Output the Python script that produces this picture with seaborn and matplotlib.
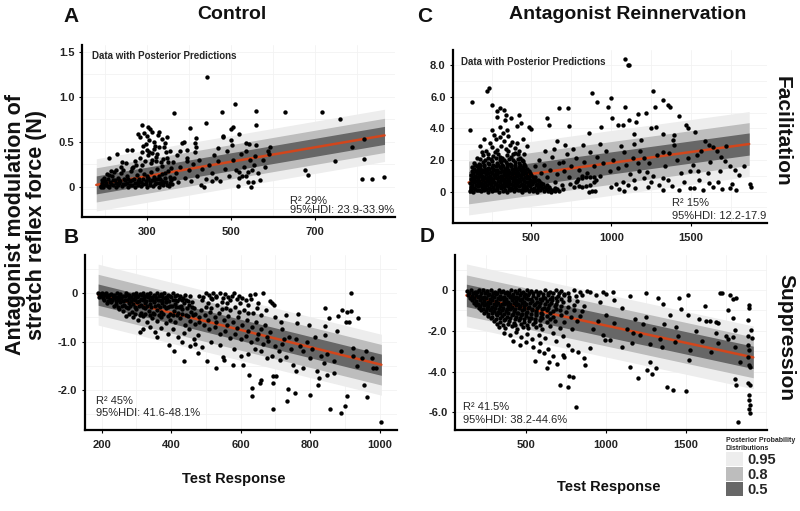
import numpy as np
import pandas as pd
import matplotlib
matplotlib.use("Agg")
import matplotlib.pyplot as plt
from matplotlib.patches import Patch
from matplotlib.ticker import AutoMinorLocator
import seaborn as sns

sns.set_theme(style="white")
plt.rcParams["font.family"] = ["Liberation Sans", "DejaVu Sans"]

# ---- data (Test Response, modulation) ----
a_pts = [
    (190,0.01),(193,0.04),(197,0.0),(200,0.06),(203,0.02),(207,0.09),(210,0.0),(213,0.05),(217,0.12),(220,0.02),
    (224,0.07),(227,0.0),(231,0.10),(234,0.04),(238,0.15),(241,0.01),(245,0.08),(248,0.03),(252,0.12),(255,0.0),
    (259,0.06),(262,0.17),(266,0.02),(269,0.09),(273,0.0),(276,0.13),(280,0.04),(283,0.19),(287,0.01),(290,0.08),
    (294,0.14),(297,0.03),(301,0.0),(304,0.10),(308,0.05),(311,0.16),(315,0.01),(318,0.11),(322,0.04),(325,0.20),
    (329,0.0),(332,0.08),(336,0.14),(339,0.02),(343,0.10),(346,0.05),(350,0.17),(353,0.01),(357,0.07),(360,0.03),
    (199,0.10),(211,0.13),(222,0.16),(233,0.07),(244,0.19),(256,0.09),(267,0.22),(278,0.06),(289,0.24),(300,0.12),
    (309,0.26),(316,0.07),(323,0.29),(330,0.12),(337,0.23),(344,0.15),(351,0.27),(356,0.11),(347,0.32),(321,0.33),
    (312,0.30),(303,0.35),(295,0.28),(285,0.32),(275,0.24),(264,0.21),(250,0.26),(238,0.22),(227,0.19),(215,0.17),
    (205,0.14),(194,0.07),
    (289,0.69),(304,0.66),(308,0.64),(312,0.61),(280,0.58),(283,0.55),(294,0.60),(330,0.61),(316,0.50),(336,0.53),
    (343,0.48),(349,0.55),(328,0.44),(300,0.41),(305,0.38),(312,0.37),(252,0.41),(264,0.41),(230,0.36),(211,0.32),
    (241,0.27),(272,0.29),(288,0.38),(339,0.31),(355,0.40),(320,0.45),(298,0.47),(325,0.36),(345,0.39),(333,0.27),
    (318,0.42),(306,0.52),(292,0.45),(358,0.21),(340,0.44),(326,0.57),(301,0.56),
    (364,0.82),(383,0.49),(403,0.65),(415,0.49),(415,0.39),(441,0.71),(444,1.22),(478,0.83),(482,0.55),(504,0.66),
    (510,0.92),(500,0.64),(560,0.84),(628,0.83),(716,0.83),(760,0.75),(560,0.69),(388,0.50),(396,0.41),(418,0.54),
    (418,0.44),(480,0.56),(500,0.52),(502,0.46),(536,0.49),(544,0.47),(560,0.46),(592,0.44),(588,0.40),(556,0.34),
    (676,0.19),(684,0.13),(748,0.28),(788,0.44),(816,0.53),(816,0.31),(812,0.09),(836,0.09),(864,0.11),(570,0.07),
    (548,0.0),(516,0.01),(454,0.06),(436,0.0),(428,0.02),
    (370,0.15),(375,0.05),(380,0.22),(390,0.10),(395,0.28),(400,0.18),(405,0.06),(410,0.25),(420,0.12),(425,0.30),
    (432,0.20),(440,0.08),(448,0.24),(455,0.15),(460,0.35),(465,0.10),(470,0.28),(475,0.06),(485,0.20),(490,0.40),
    (495,0.12),(505,0.30),(512,0.18),(520,0.10),(525,0.36),(530,0.22),(535,0.12),(540,0.05),(545,0.30),(550,0.18),
    (555,0.24),(565,0.15),(575,0.30),(580,0.22),(590,0.36),(372,0.35),(380,0.40),(395,0.32),(470,0.43),(520,0.58),
    (535,0.40),(520,0.16),(527,0.12),(540,0.16),(552,0.05),(365,0.10),(362,0.27),
]
a_dense = [
    (192,0.0),(196,0.02),(202,0.04),(208,0.01),(215,0.03),(219,0.07),(226,0.04),(232,0.02),(237,0.06),(243,0.03),
    (249,0.07),(254,0.04),(261,0.02),(265,0.07),(271,0.04),(278,0.02),(282,0.08),(286,0.05),(292,0.03),(298,0.06),
    (302,0.08),(307,0.02),(313,0.07),(319,0.03),(324,0.09),(328,0.04),(334,0.03),(337,0.06),(342,0.05),(348,0.02),
    (354,0.04),(358,0.09),
]

b_pts = [
    (190,0.0),(195,-0.01),(200,0.0),(205,-0.02),(212,0.0),(220,-0.03),(228,-0.01),(236,-0.04),(245,0.0),(254,-0.02),
    (262,-0.05),(270,0.0),(280,-0.03),(290,-0.01),(300,0.0),(310,-0.02),(320,0.0),(330,-0.01),(340,0.0),(350,-0.03),
    (360,0.0),(370,-0.02),(380,0.0),(392,-0.04),(405,0.0),(418,-0.03),
    (192,-0.08),(203,-0.1),(214,-0.07),(224,-0.12),(235,-0.09),(246,-0.13),(257,-0.1),(268,-0.14),(279,-0.09),(290,-0.12),
    (301,-0.08),(312,-0.13),(323,-0.1),(334,-0.07),(345,-0.12),(356,-0.09),(367,-0.14),(378,-0.1),(389,-0.12),(400,-0.08),
    (411,-0.15),(422,-0.11),(435,-0.09),(448,-0.16),
    (215,-0.2),(228,-0.18),(240,-0.22),(252,-0.19),(265,-0.24),(278,-0.2),(290,-0.23),(302,-0.18),(314,-0.25),(326,-0.2),
    (338,-0.22),(350,-0.19),(362,-0.25),(374,-0.21),(386,-0.18),(398,-0.26),(410,-0.22),(424,-0.28),(438,-0.2),(452,-0.25),
    (466,-0.3),
    (250,-0.32),(262,-0.36),(275,-0.3),(288,-0.38),(300,-0.33),(312,-0.4),(324,-0.31),(336,-0.37),(348,-0.42),(360,-0.34),
    (372,-0.39),(384,-0.31),(396,-0.44),(408,-0.36),(420,-0.41),(432,-0.33),(444,-0.46),(456,-0.38),(470,-0.43),
    (270,-0.48),(290,-0.5),(305,-0.55),(318,-0.48),(330,-0.6),(345,-0.52),(358,-0.58),(370,-0.5),(385,-0.62),(398,-0.55),
    (412,-0.6),(425,-0.52),(440,-0.66),(455,-0.58),(468,-0.63),(480,-0.5),
    (320,-0.75),(340,-0.7),(355,-0.8),(372,-0.72),(390,-0.85),(405,-0.75),(420,-0.9),(438,-0.82),(452,-0.74),(465,-0.95),
    (476,-0.86),(310,-0.8),(360,-0.9),
    (395,-1.07),(407,-1.19),(437,-1.40),(478,-1.23),(502,-1.40),(528,-1.55),(550,-1.31),(552,-1.39),(577,-1.48),(608,-1.48),
    (430,-1.0),(455,-1.1),(470,-1.05),(490,-1.12),(515,-1.0),(540,-1.08),
    (500,0.0),(510,-0.03),(520,0.0),(530,-0.05),(540,0.0),(555,-0.02),(565,-0.08),(580,0.0),(595,-0.05),(627,-0.03),
    (641,-0.02),(663,0.0),(684,-0.17),(690,-0.2),(695,-0.25),
    (490,-0.15),(505,-0.2),(518,-0.12),(532,-0.25),(545,-0.18),(558,-0.3),(570,-0.15),(585,-0.28),(598,-0.2),(610,-0.35),
    (622,-0.25),(635,-0.4),(648,-0.3),(660,-0.45),(672,-0.35),
    (485,-0.35),(498,-0.45),(512,-0.38),(525,-0.5),(538,-0.42),(552,-0.55),(565,-0.48),(578,-0.6),(592,-0.5),(605,-0.65),
    (618,-0.55),(632,-0.7),(645,-0.6),(658,-0.75),(670,-0.65),(685,-0.8),
    (495,-0.65),(510,-0.75),(525,-0.7),(540,-0.85),(555,-0.78),(570,-0.92),(585,-0.85),(600,-0.95),(615,-0.88),(630,-1.0),
    (648,-0.95),(665,-1.05),(680,-0.98),(700,-1.1),(720,-1.05),
    (919,0.0),(937,-0.52),(917,-0.37),(905,-0.38),(902,-0.59),(912,-0.59),(891,-0.34),(881,-0.47),(855,-0.52),(843,-0.31),
    (843,-0.68),(878,-0.79),(922,-1.14),(922,-1.30),(977,-1.34),(982,-1.55),(991,-1.55),(1004,-2.66),(888,-2.47),(901,-2.34),
    (905,-2.12),(857,-2.40),(822,-1.90),(848,-1.69),(826,-1.76),(800,-2.10),(756,-2.07),(734,-2.24),(737,-1.99),(694,-2.40),
    (694,-1.86),(692,-1.71),(702,-1.71),(658,-1.79),(657,-1.86),(634,-1.97),(634,-2.12),(625,-1.69),(766,-0.43),(761,-0.62),
    (797,-0.66),(813,-0.90),(843,-0.86),(771,-1.10),(732,-1.31),(751,-1.48),(713,-1.38),(675,-1.34),
    (720,-0.75),(740,-0.9),(760,-0.95),(780,-1.2),(790,-1.0),(805,-1.15),(830,-1.3),(850,-1.25),(870,-1.4),(890,-1.2),
    (950,-1.35),(960,-1.2),(700,-0.5),(715,-0.6),(730,-0.45),(745,-1.15),(710,-1.2),(725,-0.95),(690,-1.3),(660,-1.2),
    (640,-1.15),(620,-1.25),(600,-1.3),(580,-1.15),(780,-1.55),(800,-1.35),(820,-1.6),(760,-1.6),(870,-1.65),(840,-1.45),
    (935,-1.5),(955,-1.9),(965,-2.15),
]
b_dense = [
    (198,-0.05),(209,-0.04),(218,-0.06),(232,-0.05),(241,-0.07),(250,-0.05),(266,-0.06),(276,-0.04),(285,-0.07),(295,-0.05),
    (305,-0.06),(315,-0.04),(325,-0.06),(335,-0.05),(345,-0.07),(355,-0.05),(365,-0.06),(375,-0.05),(386,-0.07),(398,-0.05),
    (411,-0.06),(425,-0.05),(440,-0.03),(455,-0.06),
    (208,-0.15),(219,-0.16),(230,-0.14),(241,-0.17),(251,-0.15),(262,-0.16),(273,-0.14),(284,-0.17),(296,-0.15),(307,-0.16),
    (318,-0.14),(329,-0.17),(340,-0.15),(351,-0.16),(362,-0.14),(373,-0.17),(384,-0.15),(395,-0.16),(406,-0.14),(417,-0.17),
    (430,-0.15),(443,-0.14),(460,-0.18),
    (235,-0.27),(246,-0.29),(258,-0.26),(270,-0.28),(283,-0.27),(295,-0.29),(307,-0.26),(319,-0.28),(331,-0.27),(343,-0.29),
    (355,-0.26),(367,-0.28),(379,-0.27),(391,-0.29),(403,-0.26),(415,-0.28),(428,-0.27),(445,-0.3),(460,-0.28),
    (280,-0.44),(296,-0.43),(310,-0.45),(324,-0.44),(338,-0.46),(352,-0.44),(365,-0.45),(378,-0.44),(392,-0.47),(405,-0.45),
    (418,-0.46),(432,-0.44),(448,-0.47),(462,-0.45),
    (480,-0.05),(492,-0.08),(515,-0.1),(528,-0.08),(548,-0.1),(560,-0.2),(575,-0.06),(590,-0.12),(605,-0.1),(615,-0.15),
    (630,-0.12),(650,-0.2),(500,-0.28),(515,-0.3),(545,-0.33),(570,-0.35),(595,-0.38),(620,-0.4),(480,-0.6),(505,-0.55),
    (530,-0.6),(560,-0.65),(590,-0.72),(620,-0.78),(650,-0.85),(675,-0.9),
]

c_pts = [
    (112,0.05),(135,0.0),(158,0.08),(182,0.02),(205,0.1),(228,0.0),(252,0.06),(275,0.12),(298,0.01),(322,0.07),
    (345,0.0),(368,0.1),(392,0.03),(415,0.08),(438,0.0),(462,0.11),(485,0.02),(508,0.06),(532,0.0),(555,0.09),
    (578,0.02),(602,0.05),(625,0.0),(650,0.07),(675,0.03),(862,0.0),(882,0.06),(898,0.06),
    (118,0.3),(141,0.26),(164,0.34),(188,0.28),(211,0.36),(234,0.25),(258,0.32),(281,0.27),(304,0.35),(328,0.29),
    (351,0.33),(374,0.24),(398,0.31),(421,0.37),(444,0.26),(468,0.3),(491,0.34),(514,0.22),(538,0.3),(561,0.38),
    (585,0.27),(610,0.32),
    (115,0.55),(138,0.6),(162,0.5),(185,0.57),(208,0.62),(232,0.52),(255,0.58),(278,0.5),(302,0.63),(325,0.55),
    (348,0.6),(372,0.51),(395,0.56),(418,0.62),(442,0.5),(465,0.58),(488,0.53),(512,0.6),(535,0.48),(560,0.57),
    (120,0.8),(143,0.76),(167,0.85),(190,0.78),(213,0.84),(237,0.75),(260,0.82),(283,0.88),(307,0.77),(330,0.83),
    (353,0.79),(377,0.86),(400,0.76),(423,0.82),(447,0.78),(470,0.85),(494,0.74),(518,0.8),(540,0.72),
    (122,1.05),(146,1.0),(170,1.08),(193,1.02),(216,1.1),(240,0.98),(263,1.06),(286,1.12),(310,1.0),(333,1.07),
    (356,1.03),(380,1.1),(403,0.99),(426,1.05),(450,1.12),(475,0.98),(500,1.04),(522,0.95),
    (125,1.28),(150,1.33),(174,1.25),(197,1.36),(220,1.3),(244,1.27),(267,1.35),(290,1.24),(314,1.32),(337,1.38),
    (360,1.26),(384,1.33),(407,1.29),(432,1.36),(458,1.25),(482,1.31),
    (130,1.55),(156,1.6),(180,1.52),(204,1.62),(228,1.5),(252,1.58),(276,1.65),(300,1.53),(324,1.6),(348,1.55),
    (372,1.63),(396,1.5),(420,1.58),(445,1.54),(462,1.62),
    (140,1.82),(170,1.76),(198,1.88),(226,1.8),(254,1.92),(282,1.78),(310,1.85),(338,1.9),(366,1.77),(394,1.86),
    (422,1.8),(445,1.93),
    (160,2.15),(195,2.3),(230,2.1),(262,2.25),(290,2.4),(318,2.12),(345,2.3),(372,2.2),(400,2.45),(430,2.15),
    (215,2.6),(250,2.8),(285,2.65),(310,2.9),(340,2.7),(368,2.95),(395,2.75),(425,2.6),(455,2.4),(240,3.1),
    (275,3.3),(300,3.45),(330,3.2),(355,3.5),(380,3.15),(410,3.05),(265,3.6),(320,3.7),(345,3.9),(200,3.3),
    (180,2.9),(450,3.3),(470,2.9),
    (233,6.57),(222,6.36),(128,5.69),(254,5.48),(306,5.31),(327,5.16),(281,5.10),(281,4.74),(338,4.84),(333,4.53),
    (369,4.67),(421,4.84),(432,4.32),(411,4.15),(484,4.11),(495,3.96),(306,4.11),(253,3.90),(115,3.90),(599,4.67),
    (610,4.21),(673,5.31),(730,5.31),(736,4.17),(882,6.25),(998,5.94),(914,5.64),(983,5.37),(1008,4.67),(1071,4.21),
    (1040,4.21),(935,4.11),(824,2.95),(862,3.69),(929,3.0),(711,2.95),(662,3.2),
    (1088,8.36),(1103,8.0),(1113,8.0),
    (520,1.6),(545,2.0),(560,1.2),(580,1.7),(600,0.9),(615,1.4),(630,2.2),(645,0.6),(660,1.1),(675,1.8),
    (690,0.4),(705,1.3),(720,2.4),(735,0.9),(750,1.6),(765,0.3),(780,2.1),(800,1.4),(815,1.0),(830,1.9),
    (850,1.2),(870,2.5),(890,1.6),(910,2.2),(930,1.0),(950,1.8),(970,2.6),(990,1.3),(1010,2.0),(1030,0.5),
    (585,2.6),(640,2.7),(700,1.9),(760,2.7),(650,0.2),(700,0.15),(740,0.5),
    (780,0.6),(800,0.35),(820,0.3),(845,0.35),(870,0.45),(890,0.6),(905,0.75),(895,0.9),(870,0.95),(845,0.9),
    (820,0.85),(795,0.8),(785,0.7),
    (1260,6.38),(1327,5.79),(1354,5.48),(1369,5.33),(1423,4.80),(1277,5.37),(1218,4.95),(1170,4.89),(1088,5.37),(1470,4.21),
    (1480,4.04),(1528,3.79),
    (1590,3.2),(1615,2.95),(1640,2.8),(1665,2.55),(1690,2.2),(1715,1.95),(1745,1.65),(1775,1.4),(1800,1.05),
    (1868,0.47),(1874,0.32),(1742,0.21),(1696,0.15),(1669,0.63),(1612,0.57),(1553,0.74),(1491,0.25),(1428,0.1),(1455,0.59),
    (1679,1.31),(1606,1.16),(1543,1.31),(1491,1.31),(1480,2.11),(1537,2.32),(1396,3.58),(1386,3.27),(1323,3.62),(1281,4.11),
    (1250,4.0),(1155,4.42),(1113,4.53),(1145,3.62),(1187,3.27),(1145,3.0),(1082,2.53),(1323,2.53),(1396,2.95),(1365,2.42),
    (1208,2.11),(1134,2.11),(1092,1.69),(1165,1.79),(1176,1.31),(1222,1.22),(1260,1.01),(1323,0.85),(1354,0.74),(1302,0.42),
    (1250,0.63),(1208,0.85),(1145,0.74),(1103,0.42),(1323,0.11),(1574,0.11),(1071,0.63),(1082,0.05),
    (1040,1.5),(1060,2.9),(1120,1.1),(1180,2.6),(1240,1.8),(1290,2.3),(1340,1.6),(1410,2.0),(1440,1.2),(1510,1.7),
    (1560,2.6),(1620,1.9),(1720,2.9),(1760,0.5),(1830,1.6),(1000,0.3),(1050,0.15),(1150,0.2),(1230,0.3),(1380,0.35),
    (1520,0.2),(1640,0.3),(1780,0.1),
]
c_dense = [
    (124,0.15),(147,0.18),(170,0.12),(194,0.17),(217,0.14),(240,0.19),(264,0.13),(287,0.16),(310,0.2),(334,0.12),
    (357,0.17),(380,0.15),(404,0.19),(427,0.13),(450,0.17),(474,0.14),(497,0.18),(520,0.12),(544,0.16),(567,0.2),
    (590,0.14),(615,0.17),(638,0.12),(662,0.15),
    (128,0.42),(152,0.45),(175,0.4),(199,0.46),(222,0.43),(246,0.39),(269,0.47),(292,0.41),(316,0.44),(339,0.4),
    (362,0.46),(386,0.42),(409,0.45),(432,0.39),(456,0.44),(479,0.41),(502,0.47),(526,0.4),(549,0.43),(573,0.46),
    (596,0.41),
    (126,0.68),(150,0.7),(173,0.65),(196,0.71),(220,0.66),(243,0.72),(266,0.64),(290,0.69),(313,0.73),(336,0.66),
    (360,0.7),(383,0.65),(406,0.72),(430,0.67),(453,0.7),(476,0.64),(500,0.69),(523,0.66),(548,0.7),
    (131,0.93),(155,0.9),(178,0.96),(202,0.91),(225,0.95),(248,0.89),(272,0.94),(295,0.92),(318,0.97),(342,0.9),
    (365,0.94),(388,0.91),(412,0.96),(436,0.9),(460,0.95),(485,0.9),(510,0.93),
    (134,1.18),(158,1.2),(182,1.15),(205,1.22),(230,1.17),(255,1.2),(278,1.16),(302,1.23),(325,1.18),(348,1.21),
    (372,1.15),(395,1.2),(418,1.17),(443,1.22),(468,1.16),(492,1.19),
    (138,1.42),(162,1.45),(186,1.4),(210,1.46),(235,1.41),(260,1.44),(284,1.4),(308,1.47),(332,1.43),(356,1.4),
    (380,1.46),(404,1.42),(428,1.45),(452,1.4),(475,1.44),
    (145,1.68),(175,1.7),(205,1.66),(235,1.72),(262,1.67),(290,1.71),(318,1.69),(345,1.73),(372,1.66),(400,1.7),
    (428,1.68),(455,1.72),
    (175,2.05),(210,2.0),(245,2.05),(275,2.1),(305,2.02),(330,2.0),(360,2.08),(385,2.0),(415,2.05),(440,2.0),
    (190,2.5),(230,2.4),(270,2.5),(300,2.2),(355,2.55),(385,2.4),(415,2.35),
]

d_pts = [
    (130,-0.05),(155,0.0),(180,-0.08),(205,-0.02),(230,0.0),(255,-0.06),(280,-0.01),(305,-0.09),(330,0.0),(355,-0.04),
    (380,-0.1),(405,0.0),(430,-0.05),(455,-0.02),(480,-0.08),(505,0.0),(530,-0.06),(560,-0.03),(590,-0.1),(620,-0.02),
    (650,-0.07),(690,0.0),(720,-0.05),(760,-0.12),(800,-0.02),(840,-0.08),(880,-0.04),(900,-0.08),(979,-0.08),(1044,-0.1),
    (140,-0.25),(165,-0.3),(190,-0.22),(215,-0.28),(240,-0.33),(265,-0.24),(290,-0.3),(315,-0.2),(340,-0.27),(365,-0.34),
    (390,-0.23),(415,-0.29),(440,-0.36),(465,-0.25),(490,-0.31),(515,-0.22),(545,-0.3),(575,-0.26),(605,-0.35),(635,-0.24),
    (665,-0.32),(700,-0.28),(735,-0.22),(770,-0.35),(810,-0.3),(850,-0.25),
    (160,-0.5),(185,-0.55),(210,-0.47),(235,-0.53),(260,-0.58),(285,-0.49),(310,-0.55),(335,-0.46),(360,-0.52),(385,-0.6),
    (410,-0.48),(435,-0.55),(460,-0.5),(485,-0.58),(510,-0.46),(540,-0.54),(570,-0.6),(600,-0.49),(630,-0.56),(660,-0.47),
    (695,-0.55),(730,-0.6),(770,-0.5),(820,-0.55),
    (190,-0.75),(215,-0.8),(240,-0.72),(265,-0.78),(290,-0.84),(315,-0.74),(340,-0.8),(365,-0.7),(390,-0.77),(415,-0.85),
    (440,-0.73),(465,-0.8),(490,-0.76),(520,-0.83),(550,-0.71),(580,-0.79),(610,-0.86),(645,-0.74),(680,-0.8),(720,-0.77),
    (760,-0.84),(800,-0.72),(860,-0.8),
    (220,-1.0),(250,-1.05),(275,-0.97),(300,-1.03),(325,-1.09),(350,-0.98),(375,-1.04),(400,-0.95),(425,-1.02),(450,-1.1),
    (475,-0.99),(505,-1.06),(535,-0.96),(565,-1.03),(595,-1.1),(630,-0.98),(670,-1.05),(710,-1.0),(750,-1.08),(800,-0.97),
    (850,-1.05),
    (260,-1.25),(290,-1.3),(320,-1.22),(350,-1.28),(380,-1.34),(410,-1.24),(440,-1.3),(470,-1.2),(500,-1.27),(530,-1.35),
    (560,-1.23),(595,-1.3),(630,-1.26),(670,-1.33),(720,-1.22),(780,-1.3),(840,-1.25),
    (300,-1.5),(335,-1.55),(365,-1.47),(395,-1.53),(425,-1.6),(455,-1.48),(490,-1.55),(520,-1.5),(555,-1.58),(590,-1.46),
    (630,-1.55),(680,-1.5),(740,-1.57),(820,-1.5),
    (330,-1.8),(370,-1.85),(410,-1.78),(445,-1.9),(480,-1.82),(515,-1.88),(560,-1.8),(600,-1.92),(650,-1.78),(710,-1.85),
    (790,-1.9),
    (360,-2.1),(400,-2.2),(440,-2.05),(470,-2.3),(505,-2.15),(540,-2.4),(580,-2.2),(620,-2.35),(670,-2.1),(730,-2.25),
    (420,-2.5),(460,-2.7),(500,-2.55),(545,-2.8),(590,-2.6),(640,-2.9),(690,-2.5),(760,-2.7),(556,-3.48),(633,-3.84),
    (646,-3.51),(691,-3.6),(729,-3.2),(740,-3.3),(869,-3.68),(860,-3.35),(827,-3.04),(790,-2.95),(900,-2.86),(994,-2.45),
    (980,-2.2),(610,-3.1),(580,-3.0),(670,-3.25),
    (812,-5.72),(771,-4.22),(796,-4.25),(765,-4.74),(712,-4.64),
    (1896,-0.74),(1896,-0.90),(1890,-1.47),(1906,-1.96),(1890,-2.25),(1910,-2.37),(1890,-2.70),(1896,-2.94),(1890,-3.27),(1896,-3.68),
    (1900,-3.75),(1890,-4.57),(1900,-4.66),(1893,-5.15),(1893,-5.39),(1900,-5.64),(1896,-5.85),(1900,-6.05),(1827,-6.45),(1806,-4.38),
    (1810,-4.66),(1838,-3.52),(1806,-2.78),(1806,-1.96),(1796,-2.29),(1750,-2.25),(1760,-2.4),(1712,-0.16),(1722,-0.13),(1775,-0.25),
    (1796,-0.46),(1810,-0.38),(1760,-0.98),(1792,-1.39),(1702,-1.60),(1690,-1.55),(1690,-2.12),(1650,-1.51),(1627,-1.51),(1654,-3.02),
    (1515,-0.25),(1453,-0.38),(1469,-0.95),(1510,-1.23),(1354,-0.70),(1250,-0.16),(1323,-0.41),(1525,-2.94),(1521,-3.43),(1448,-2.25),
    (1430,-2.55),(1360,-1.68),(1338,-2.4),(1348,-2.78),(1379,-4.74),(1417,-4.90),(1500,-4.95),(1275,-3.52),(1285,-4.13),(1258,-3.92),
    (1313,-3.84),(1198,-4.33),(1150,-3.76),(1275,-2.65),(1229,-1.64),(1250,-1.3),(1167,-2.09),(1160,-2.6),(1025,-2.45),(1098,-2.78),
    (1000,-1.2),(1050,-1.6),(1100,-0.9),(1130,-1.9),(1180,-1.4),(1210,-2.2),(1300,-1.9),(1400,-1.2),(1440,-1.8),(1560,-2.0),
    (1600,-2.5),(1620,-0.8),(1700,-2.6),(1580,-1.4),(950,-1.5),(960,-0.6),(920,-1.9),(1050,-0.5),(1150,-0.3),(1000,-0.2),
    (940,-0.25),
]
d_dense = [
    (142,-0.13),(167,-0.15),(192,-0.11),(217,-0.16),(242,-0.12),(267,-0.17),(292,-0.13),(317,-0.15),(342,-0.11),(367,-0.16),
    (392,-0.14),(417,-0.18),(442,-0.12),(467,-0.15),(492,-0.17),(517,-0.12),(545,-0.16),(575,-0.14),(605,-0.18),(635,-0.12),
    (670,-0.16),(705,-0.14),(740,-0.18),
    (150,-0.38),(177,-0.4),(202,-0.35),(227,-0.41),(252,-0.37),(277,-0.42),(302,-0.36),(327,-0.4),(352,-0.38),(377,-0.43),
    (402,-0.36),(427,-0.41),(452,-0.38),(477,-0.44),(502,-0.37),(530,-0.42),(560,-0.38),(590,-0.44),(620,-0.37),(650,-0.42),
    (685,-0.39),(720,-0.44),
    (175,-0.63),(200,-0.66),(225,-0.61),(250,-0.67),(275,-0.62),(300,-0.68),(325,-0.63),(350,-0.66),(375,-0.61),(400,-0.68),
    (425,-0.64),(450,-0.67),(475,-0.62),(500,-0.68),(525,-0.63),(555,-0.67),(585,-0.62),(620,-0.68),(655,-0.63),(690,-0.67),
    (205,-0.88),(230,-0.92),(255,-0.87),(280,-0.93),(305,-0.89),(330,-0.92),(355,-0.87),(380,-0.93),(405,-0.88),(430,-0.92),
    (458,-0.87),(485,-0.93),(512,-0.89),(540,-0.92),(570,-0.88),(600,-0.93),(640,-0.89),(690,-0.92),
    (240,-1.13),(265,-1.17),(290,-1.12),(315,-1.18),(340,-1.14),(365,-1.17),(390,-1.12),(418,-1.18),(445,-1.14),(472,-1.17),
    (500,-1.12),(530,-1.18),(560,-1.14),(600,-1.17),(650,-1.13),
    (280,-1.38),(310,-1.42),(340,-1.37),(370,-1.43),(400,-1.39),(430,-1.42),(460,-1.37),(490,-1.43),(520,-1.39),(555,-1.42),
    (600,-1.38),(650,-1.42),
    (320,-1.65),(355,-1.7),(390,-1.66),(430,-1.7),(470,-1.65),(505,-1.7),(545,-1.66),(590,-1.7),
]

# fitted line (ends) and credible band half-widths (0.95, 0.8, 0.5)
a_fit_x = [180, 865];   a_fit_y = [0.02, 0.57];   a_half = [0.29, 0.19, 0.10]
b_fit_x = [190, 1005];  b_fit_y = [-0.03, -1.48]; b_half = [0.63, 0.42, 0.22]
c_fit_x = [106, 1865];  c_fit_y = [0.58, 3.01];   c_half = [2.05, 1.35, 0.70]
d_fit_x = [127, 1920];  d_fit_y = [-0.26, -3.30]; d_half = [1.54, 1.00, 0.55]

a_xticks = [300, 500, 700];            a_yticks = [0, 0.5, 1.0, 1.5]
a_ylabels = ["0", "0.5", "1.0", "1.5"]
b_xticks = [200, 400, 600, 800, 1000]; b_yticks = [0, -1.0, -2.0]
b_ylabels = ["0", "-1.0", "-2.0"]
c_xticks = [500, 1000, 1500];          c_yticks = [0, 2, 4, 6, 8]
c_ylabels = ["0", "2.0", "4.0", "6.0", "8.0"]
d_xticks = [500, 1000, 1500];          d_yticks = [0, -2, -4, -6]
d_ylabels = ["0", "-2.0", "-4.0", "-6.0"]

band_levels = ["0.95", "0.8", "0.5"]
band_colors = ["#ededed", "#bdbdbd", "#676767"]
line_color = "#d2461c"

fig = plt.figure(figsize=(8, 5.11), dpi=100)


def panel(rect, pts, fit_x, fit_y, half, xlim, ylim, xticks, yticks, ylabels, r2, hdi, r2_pos, top_note):
    ax = fig.add_axes(rect)
    df = pd.DataFrame(pts, columns=["test", "mod"])
    fx = np.array(fit_x, dtype=float)
    fy = np.array(fit_y, dtype=float)
    for h, col in zip(half, band_colors):
        ax.fill_between(fx, fy - h, fy + h, color=col, lw=0, zorder=1)
    sns.lineplot(x=fx, y=fy, ax=ax, color=line_color, lw=1.8, zorder=3)
    sns.scatterplot(data=df, x="test", y="mod", ax=ax, color="black", s=10,
                    linewidth=0, zorder=4, legend=False)
    ax.set_xlim(*xlim)
    ax.set_ylim(*ylim)
    ax.set_xticks(xticks)
    ax.set_xticklabels([str(t) for t in xticks])
    ax.set_yticks(yticks)
    ax.set_yticklabels(ylabels)
    ax.xaxis.set_minor_locator(AutoMinorLocator(2))
    ax.yaxis.set_minor_locator(AutoMinorLocator(2))
    ax.grid(True, which="both", color="#f2f2f2", lw=0.6, zorder=0)
    ax.set_axisbelow(True)
    ax.set_xlabel("")
    ax.set_ylabel("")
    for s in ["top", "right"]:
        ax.spines[s].set_visible(False)
    for s in ["left", "bottom"]:
        ax.spines[s].set_color("black")
        ax.spines[s].set_linewidth(1.6)
    ax.tick_params(which="major", length=2.5, width=0.8, color="black", pad=3,
                   labelsize=8, labelcolor="#222222", left=True, bottom=True)
    ax.tick_params(axis="x", pad=5)
    ax.tick_params(which="minor", length=0)
    for lab in ax.get_xticklabels() + ax.get_yticklabels():
        lab.set_fontweight("bold")
    ax.text(r2_pos[0], r2_pos[1], r2, transform=ax.transAxes, fontsize=8, va="center", zorder=5)
    ax.text(r2_pos[0], r2_pos[2], hdi, transform=ax.transAxes, fontsize=8, va="center", zorder=5)
    if top_note:
        ax.text(top_note[0], top_note[1], "Data with Posterior Predictions", transform=ax.transAxes,
                fontsize=7, fontweight="bold", va="center", zorder=5)
    return ax


panel([0.1025, 0.5753, 0.3913, 0.3366], a_pts + a_dense, a_fit_x, a_fit_y, a_half, (146, 890), (-0.337, 1.574),
      a_xticks, a_yticks, a_ylabels, "R² 29%", "95%HDI: 23.9-33.9%", (0.665, 0.093, 0.041), (0.032, 0.936))
panel([0.1062, 0.1585, 0.3896, 0.3425], b_pts + b_dense, b_fit_x, b_fit_y, b_half, (152, 1049), (-2.83, 0.79),
      b_xticks, b_yticks, b_ylabels, "R² 45%", "95%HDI: 41.6-48.1%", (0.037, 0.166, 0.099), None)
panel([0.5666, 0.5642, 0.3918, 0.3380], c_pts + c_dense, c_fit_x, c_fit_y, c_half, (10, 1975), (-1.96, 8.95),
      c_xticks, c_yticks, c_ylabels, "R² 15%", "95%HDI: 12.2-17.9", (0.697, 0.116, 0.039), (0.025, 0.93))
panel([0.5688, 0.1585, 0.3896, 0.3425], d_pts + d_dense, d_fit_x, d_fit_y, d_half, (56, 2004), (-6.86, 1.72),
      d_xticks, d_yticks, d_ylabels, "R² 41.5%", "95%HDI: 38.2-44.6%", (0.025, 0.13, 0.057), None)

# panel letters and titles
bold = dict(fontweight="bold", color="#111111")
fig.text(0.079, 0.967, "A", fontsize=15, va="center", **bold)
fig.text(0.29, 0.971, "Control", fontsize=14, ha="center", va="center", **bold)
fig.text(0.521, 0.967, "C", fontsize=15, va="center", **bold)
fig.text(0.785, 0.971, "Antagonist Reinnervation", fontsize=14, ha="center", va="center", **bold)
fig.text(0.079, 0.536, "B", fontsize=15, va="center", **bold)
fig.text(0.525, 0.538, "D", fontsize=15, va="center", **bold)
fig.text(0.9775, 0.744, "Facilitation", fontsize=15, rotation=270, ha="center", va="center", **bold)
fig.text(0.983, 0.34, "Suppression", fontsize=15, rotation=270, ha="center", va="center", **bold)
fig.text(0.019, 0.56, "Antagonist modulation of", fontsize=15.5, rotation=90, ha="center", va="center", **bold)
fig.text(0.046, 0.56, "stretch reflex force (N)", fontsize=15.5, rotation=90, ha="center", va="center", **bold)
fig.text(234 / 800, 1 - 479 / 511, "Test Response", fontsize=10.5, ha="center", va="center", **bold)
fig.text(609 / 800, 1 - 487 / 511, "Test Response", fontsize=10.5, ha="center", va="center", **bold)

handles = [Patch(facecolor=c, edgecolor="none") for c in band_colors]
fig.legend(handles, band_levels, loc="upper left", bbox_to_anchor=(726 / 800, 1 - 437 / 511),
           frameon=False, title="Posterior Probability\nDistributions",
           title_fontproperties={"weight": "bold", "size": 5},
           prop={"weight": "bold", "size": 10.5}, handlelength=1.15, handleheight=1.1,
           labelspacing=0.0, handletextpad=0.3, borderpad=0, borderaxespad=0, alignment="left")

fig.savefig("out.png", dpi=100)
